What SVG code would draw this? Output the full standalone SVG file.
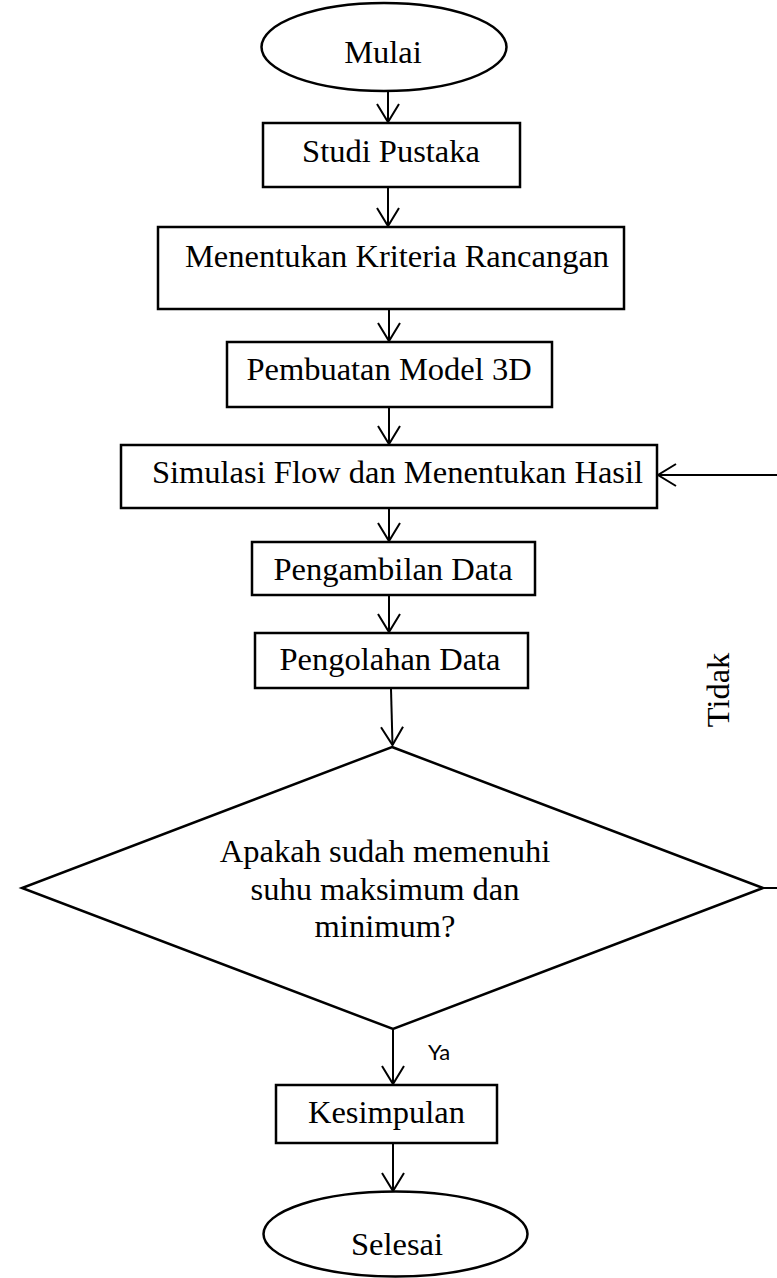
<svg xmlns="http://www.w3.org/2000/svg" width="777" height="1278" viewBox="0 0 777 1278">
<style>
.box{fill:#fff;stroke:#000;stroke-width:2.5}
.t{font-family:"Liberation Serif","Times New Roman",serif;font-size:32.5px;fill:#000;text-anchor:middle}
.c{fill:none;stroke:#000;stroke-width:2}
.ya{font-family:Lato,"Open Sans",sans-serif;font-size:22px;fill:#000}
</style>
<defs>
<marker id="arr" markerUnits="userSpaceOnUse" markerWidth="24" markerHeight="26" refX="20" refY="12" orient="auto">
<path d="M2,1 L20,12 L2,23" fill="none" stroke="#000" stroke-width="2"/>
</marker>
</defs>
<rect width="777" height="1278" fill="#fff"/>
<g id="connectors">
<path class="c" d="M388,91 V122" marker-end="url(#arr)"/>
<path class="c" d="M388,188 V226" marker-end="url(#arr)"/>
<path class="c" d="M389,310 V341" marker-end="url(#arr)"/>
<path class="c" d="M389,408 V444" marker-end="url(#arr)"/>
<path class="c" d="M389,509 V541" marker-end="url(#arr)"/>
<path class="c" d="M389,596 V632" marker-end="url(#arr)"/>
<path class="c" d="M391,689 L392.5,745" marker-end="url(#arr)"/>
<path class="c" d="M393,1030 V1084" marker-end="url(#arr)"/>
<path class="c" d="M393,1144 V1191" marker-end="url(#arr)"/>
<path class="c" d="M763,888 H777"/>
<path class="c" d="M777,475 H658" marker-end="url(#arr)"/>
</g>
<g id="mulai">
<ellipse class="box" cx="384" cy="47" rx="122.5" ry="44"/>
<text class="t" x="383" y="63">Mulai</text>
</g>
<g id="studi">
<rect class="box" x="263" y="123" width="257" height="64"/>
<text class="t" x="391" y="162">Studi Pustaka</text>
</g>
<g id="kriteria">
<rect class="box" x="158" y="227" width="466" height="82"/>
<text class="t" x="397" y="267">Menentukan Kriteria Rancangan</text>
</g>
<g id="model">
<rect class="box" x="227" y="342" width="325" height="65"/>
<text class="t" x="389" y="380">Pembuatan Model 3D</text>
</g>
<g id="simulasi">
<rect class="box" x="121" y="445" width="536" height="63"/>
<text class="t" x="397.5" y="483">Simulasi Flow dan Menentukan Hasil</text>
</g>
<g id="pengambilan">
<rect class="box" x="252" y="542" width="283" height="53"/>
<text class="t" x="393" y="580">Pengambilan Data</text>
</g>
<g id="pengolahan">
<rect class="box" x="255" y="633" width="273" height="55"/>
<text class="t" x="390" y="670">Pengolahan Data</text>
</g>
<g id="keputusan">
<polygon class="box" points="392,747 763,888 393,1029 22,888"/>
<text class="t" x="385" y="862">Apakah sudah memenuhi</text>
<text class="t" x="385" y="900">suhu maksimum dan</text>
<text class="t" x="385" y="937">minimum?</text>
</g>
<g id="kesimpulan">
<rect class="box" x="276" y="1085" width="221" height="58"/>
<text class="t" x="386.5" y="1123">Kesimpulan</text>
</g>
<g id="selesai">
<ellipse class="box" cx="395.5" cy="1234" rx="132" ry="42.5"/>
<text class="t" x="397" y="1255">Selesai</text>
</g>
<g id="labels">
<text class="t" transform="translate(729,690) rotate(-90)">Tidak</text>
<text class="ya" x="428" y="1060">Ya</text>
</g>
</svg>
